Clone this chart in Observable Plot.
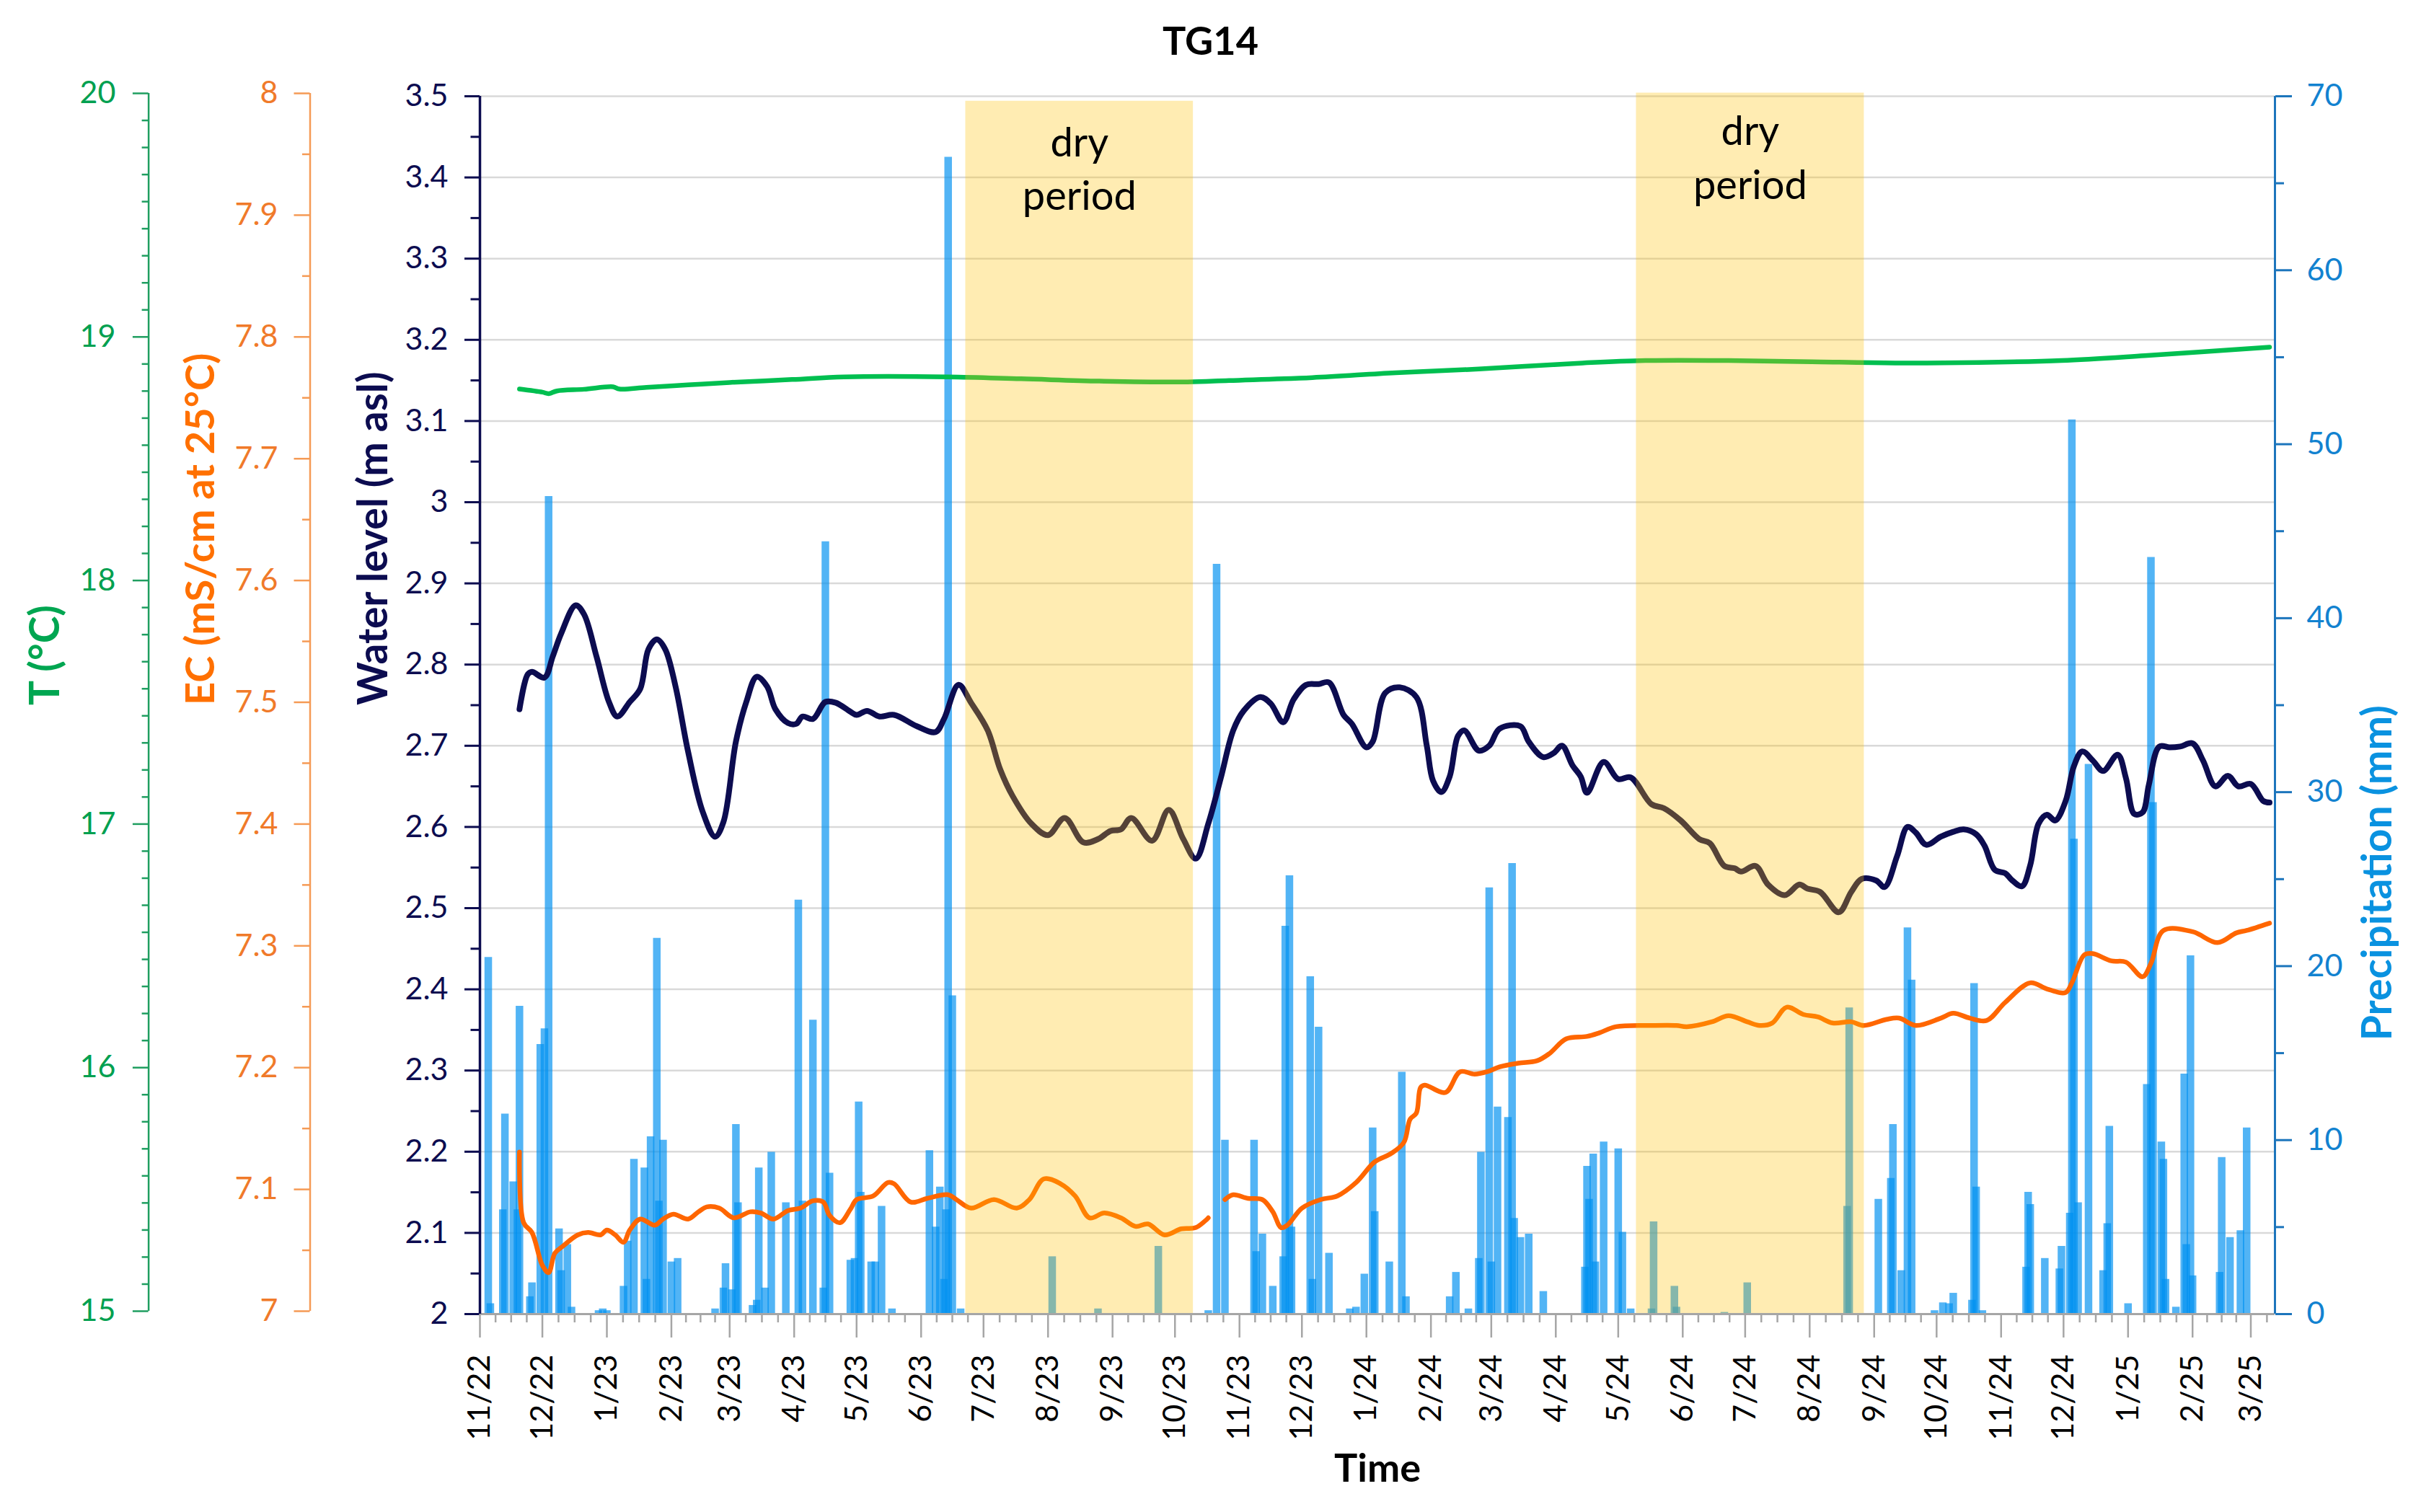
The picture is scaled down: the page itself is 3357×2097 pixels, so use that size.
<!DOCTYPE html>
<html><head><meta charset="utf-8">
<script src="https://cdn.jsdelivr.net/npm/d3@7"></script>
<script src="https://cdn.jsdelivr.net/npm/@observablehq/plot@0.6"></script>
<style>
html,body{margin:0;padding:0;background:#fff;overflow:hidden;}
#title{width:3357px;height:110px;line-height:112px;text-align:center;font-family:Lato,sans-serif;font-weight:bold;font-size:54px;color:#000;}
</style></head><body>
<div id="title">TG14</div>
<div id="chart"></div>
<script>
// ---- data (days counted from startDate) ----
const startDate = "2022-11-01";

const wlDays = [19,23,25,31,35,39,46,50,56,62,66,72,77,81,85,89,94,100,107,113,117,123,128,133,138,142,148,152,155,160,166,171,178,181,186,192,199,210,219,223,230,236,244,250,256,265,273,281,290,297,303,308,313,323,331,338,344,350,356,362,367,375,380,386,391,397,403,408,415,419,426,429,435,442,450,455,458,462,466,470,473,480,485,490,500,504,511,516,520,525,529,532,540,547,553,563,569,577,586,591,598,603,606,613,619,627,634,638,644,653,659,664,671,675,681,686,690,695,702,708,713,719,723,728,733,736,741,745,749,753,757,762,766,770,775,780,787,791,795,799,802,807,812,817,823,828,834,840,845,851,857,860];
const wlValues = [2.745,2.788,2.791,2.784,2.81,2.838,2.873,2.862,2.81,2.754,2.736,2.754,2.77,2.819,2.831,2.819,2.773,2.693,2.619,2.588,2.606,2.705,2.754,2.785,2.773,2.745,2.728,2.727,2.736,2.733,2.754,2.753,2.742,2.738,2.743,2.736,2.738,2.724,2.717,2.733,2.775,2.753,2.719,2.671,2.638,2.604,2.590,2.611,2.581,2.585,2.595,2.597,2.611,2.583,2.621,2.585,2.561,2.604,2.660,2.719,2.743,2.760,2.752,2.729,2.757,2.775,2.776,2.778,2.738,2.727,2.698,2.705,2.765,2.772,2.760,2.700,2.657,2.643,2.662,2.712,2.719,2.694,2.700,2.721,2.724,2.705,2.686,2.691,2.700,2.676,2.662,2.642,2.680,2.659,2.661,2.628,2.623,2.608,2.585,2.580,2.552,2.549,2.545,2.552,2.529,2.516,2.529,2.524,2.520,2.495,2.520,2.536,2.534,2.526,2.564,2.600,2.593,2.578,2.588,2.594,2.597,2.591,2.577,2.547,2.543,2.535,2.527,2.553,2.604,2.615,2.608,2.632,2.675,2.693,2.682,2.669,2.689,2.660,2.616,2.618,2.652,2.699,2.698,2.699,2.703,2.682,2.650,2.663,2.650,2.653,2.632,2.630];

const ecDays = [19,21,25,30,33,36,40,47,52,58,61,65,69,72,77,84,88,93,100,105,109,115,122,130,135,141,148,154,160,165,168,173,178,181,189,196,199,207,215,225,229,236,247,258,264,271,279,286,293,300,308,315,321,329,337,344,350,354,358,362,369,376,381,385,388,395,404,412,421,430,438,444,447,450,452,454,464,471,478,484,490,499,508,514,522,532,538,546,563,575,580,592,600,609,615,621,628,636,643,650,659,665,676,682,690,702,708,716,724,733,745,753,762,765,771,775,784,791,799,803,809,823,835,844,849,860];
const ecValues = [7.133,7.075,7.067,7.040,7.034,7.050,7.056,7.065,7.067,7.065,7.069,7.065,7.059,7.069,7.078,7.073,7.078,7.082,7.078,7.084,7.088,7.087,7.079,7.084,7.083,7.078,7.085,7.087,7.093,7.092,7.081,7.075,7.086,7.094,7.097,7.108,7.107,7.092,7.095,7.098,7.094,7.087,7.094,7.087,7.094,7.111,7.107,7.097,7.079,7.083,7.079,7.072,7.074,7.065,7.070,7.071,7.079,null,7.094,7.098,7.095,7.094,7.084,7.071,7.073,7.087,7.094,7.097,7.108,7.125,7.132,7.141,7.160,7.165,7.186,7.188,7.182,7.199,7.197,7.199,7.203,7.206,7.208,7.214,7.226,7.228,7.231,7.236,7.237,7.237,7.236,7.240,7.245,7.240,7.237,7.239,7.252,7.246,7.244,7.239,7.240,7.237,7.242,7.243,7.237,7.243,7.247,7.243,7.241,7.256,7.272,7.267,7.264,7.272,7.295,7.296,7.290,7.289,7.277,7.288,7.315,7.314,7.305,7.313,7.315,7.321];

const tDays = [19,30,33,37,50,64,67,80,100,120,150,175,225,260,300,340,360,400,440,480,530,560,600,640,680,720,760,800,860];
const tValues = [18.798,18.785,18.779,18.790,18.797,18.807,18.798,18.805,18.815,18.825,18.837,18.848,18.848,18.840,18.830,18.827,18.833,18.845,18.865,18.880,18.905,18.915,18.915,18.910,18.905,18.907,18.915,18.935,18.970];

const pDays = [4,5,11,12,16,18,19,24,25,29,31,33,38,39,42,44,57,59,61,69,71,74,79,80,82,85,86,88,92,95,113,117,118,121,123,124,131,133,134,137,140,147,153,155,160,165,166,168,178,180,182,183,188,190,193,198,216,219,221,223,224,225,227,231,275,297,326,350,354,358,372,373,376,381,386,387,389,390,399,400,403,408,418,421,425,429,430,437,443,445,466,469,475,480,481,485,486,489,494,496,497,500,504,511,531,532,533,535,536,540,547,549,553,563,564,574,575,598,609,657,658,672,678,679,683,686,688,699,703,706,708,717,718,719,722,743,744,745,752,759,760,764,765,766,768,773,780,782,783,792,801,803,804,808,809,810,815,819,820,822,823,836,837,841,846,849];
const pValues = [20.5,0.6,6,11.5,7.6,6,17.7,1,1.8,15.5,16.4,47,4.9,2.5,4.0,0.4,0.2,0.3,0.2,1.6,4.2,8.9,8.4,2,10.2,21.6,6.5,10,3,3.2,0.3,1.5,2.9,1.4,10.9,6.4,0.5,0.8,8.4,1.5,9.3,6.4,23.8,6.5,16.9,1.5,44.4,8.1,3.1,3.2,12.2,7,3,3,6.2,0.3,9.4,5,7.3,2,6,66.5,18.3,0.3,3.3,0.3,3.9,0.2,43.1,10.0,10.0,3.6,4.6,1.6,3.3,22.3,25.2,5,19.4,2.0,16.5,3.5,0.3,0.4,2.3,10.7,5.9,3.0,13.9,1,1,2.4,0.3,3.2,9.3,24.5,3,11.9,11.3,25.9,5.5,4.4,4.6,1.3,2.7,8.5,6.6,9.2,3,9.9,9.5,4.7,0.3,0.3,5.3,1.6,0.4,0.1,1.8,6.2,17.6,6.6,7.8,10.9,2.5,22.2,19.2,0.2,0.65,0.6,1.2,0.8,19.0,7.3,0.2,2.7,7.0,6.3,3.2,2.6,3.9,5.8,51.4,27.3,6.4,31.6,2.5,5.2,10.8,0.6,13.2,43.5,29.4,9.9,8.9,2.0,0.4,13.8,4,20.6,2.2,2.4,9.0,4.4,4.8,10.7];

const dryStartDays = [233.4, 555.7];
const dryEndDays = [342.8, 665.2];
const dryTopLevel = [3.494, 3.504];   // in water-level units
const dryLabelLevel = [3.414, 3.428];
const dryLabel = "dry\nperiod";

const axisEndDay = 862.6;
const wlTicks = d3.range(0, 16).map(k => 2 + k / 10);
const tTicks = [15, 16, 17, 18, 19, 20];
const ecTicks = d3.range(0, 11).map(k => 7 + k / 10);
const pTicks = [0, 10, 20, 30, 40, 50, 60, 70];

// ---- helpers ----
const t0 = new Date(startDate + "T00:00:00Z");
const day = n => new Date(t0.getTime() + n * 864e5);
const tEnd = day(axisEndDay);
const gT = v => 2 + (v - 15) * 0.3;      // T (°C) -> water level axis
const gEC = v => 2 + (v - 7) * 1.5;      // EC -> water level axis
const gP = v => 2 + v * 1.5 / 70;        // precipitation -> water level axis

const wl = wlDays.map((d, i) => ({date: day(d), v: wlValues[i]}));
const ec = ecDays.map((d, i) => ({date: day(d), v: ecValues[i]}));
const temp = tDays.map((d, i) => ({date: day(d), v: tValues[i]}));
const precip = pDays.map((d, i) => ({date: day(d), mm: pValues[i]}));
const dry = dryStartDays.map((s, i) => ({s: day(s), e: day(dryEndDays[i]), mid: day((s + dryEndDays[i]) / 2), top: dryTopLevel[i], ly: dryLabelLevel[i]}));

const months = d3.utcMonth.range(t0, tEnd);
const minorX = [];
for (const m of d3.utcMonth.range(t0, d3.utcMonth.offset(tEnd, 1))) {
  const n = d3.utcMonth.offset(m, 1);
  for (let k = 1; k < 4; k++) {
    const t = new Date(+m + (n - m) * k / 4);
    if (t <= tEnd) minorX.push(t);
  }
}
const fmtMonth = d => `${d.getUTCMonth() + 1}/${String(d.getUTCFullYear() % 100).padStart(2, "0")}`;

const navy = "#0c0c50";
const greenAxis = "#1f9e60", greenText = "#00a050", greenLine = "#00bf50";
const orangeAxis = "#f59a55", orangeText = "#f07a2a", orangeLine = "#ff6600", orangeTitle = "#ff7000";
const blueAxis = "#1c75bc", blueText = "#1282d0", blueTitle = "#0a92e0";
const gray = "#a6a6a6";

const chart = Plot.plot({
  width: 3357, height: 1987,
  marginTop: 23, marginRight: 203, marginBottom: 275, marginLeft: 665,
  style: {fontFamily: "Lato, 'Open Sans', sans-serif", background: "#fff", overflow: "visible"},
  x: {type: "utc", domain: [t0, tEnd], label: null},
  y: {domain: [2, 3.5], label: null},
  marks: [
    Plot.gridY({ticks: wlTicks, stroke: "#d9d9d9", strokeOpacity: 1, strokeWidth: 2.5}),
    Plot.ruleX(precip, {x: "date", y1: 2, y2: d => gP(d.mm), stroke: "#0090f0", strokeOpacity: 0.68, strokeWidth: 10.5}),
    Plot.line(temp, {x: "date", y: d => gT(d.v), stroke: greenLine, strokeWidth: 6.5, curve: "catmull-rom"}),
    Plot.line(ec, {x: "date", y: d => d.v == null ? NaN : gEC(d.v), stroke: orangeLine, strokeWidth: 6.5, curve: "catmull-rom"}),
    Plot.line(wl, {x: "date", y: d => d.v, stroke: navy, strokeWidth: 8, curve: "catmull-rom"}),
    Plot.rect(dry, {x1: "s", x2: "e", y1: 2, y2: "top", fill: "#ffc000", fillOpacity: 0.3}),
    Plot.text(dry, {x: "mid", y: "ly", text: () => dryLabel, fontSize: 56, lineHeight: 1.33, fill: "#000"}),

    // axis lines
    Plot.ruleY([2], {stroke: gray, strokeWidth: 3}),
    Plot.ruleX([t0], {y1: 2, y2: 3.5, stroke: navy, strokeWidth: 3.5}),
    Plot.ruleX([t0], {y1: 2, y2: 3.5, dx: -459.4, dy: -4, stroke: greenAxis, strokeWidth: 2.5}),
    Plot.ruleX([t0], {y1: 2, y2: 3.5, dx: -235.5, dy: -4, stroke: orangeAxis, strokeWidth: 2.5}),
    Plot.ruleX([tEnd], {y1: 2, y2: 3.5, stroke: blueAxis, strokeWidth: 3}),

    // water level axis
    Plot.axisY({anchor: "left", ticks: wlTicks, tickFormat: v => String(+v.toFixed(1)), tickSize: 21, tickPadding: 23, fontSize: 43, stroke: navy, fill: navy, strokeWidth: 3, label: null}),
    Plot.axisY({anchor: "left", ticks: wlTicks.slice(0, 15).map(v => v + 0.05), tickSize: 12.5, stroke: navy, fill: "none", strokeWidth: 3, label: null}),
    // temperature axis
    Plot.axisY({anchor: "left", ticks: tTicks.map(gT), tickFormat: v => String(Math.round((v - 2) / 0.3 + 15)), dx: -459.4, dy: -4, tickSize: 21.7, tickPadding: 24, fontSize: 43, stroke: greenAxis, fill: greenText, strokeWidth: 2.5, label: null}),
    Plot.axisY({anchor: "left", ticks: d3.range(1, 45).filter(k => k % 9).map(k => gT(15 + k / 9)), dx: -459.4, dy: -4, tickSize: 9, stroke: greenAxis, fill: "none", strokeWidth: 2.5, label: null}),
    // EC axis
    Plot.axisY({anchor: "left", ticks: ecTicks.map(gEC), tickFormat: v => String(+((v - 2) / 1.5 + 7).toFixed(1)), dx: -235.5, dy: -4, tickSize: 22, tickPadding: 22.5, fontSize: 43, stroke: orangeAxis, fill: orangeText, strokeWidth: 2.5, label: null}),
    Plot.axisY({anchor: "left", ticks: ecTicks.slice(0, 10).map(v => gEC(v + 0.05)), dx: -235.5, dy: -4, tickSize: 10.5, stroke: orangeAxis, fill: "none", strokeWidth: 2.5, label: null}),
    // precipitation axis
    Plot.axisY({anchor: "right", ticks: pTicks.map(gP), tickFormat: v => String(Math.round((v - 2) * 70 / 1.5)), tickSize: 23, tickPadding: 21, fontSize: 43, stroke: blueAxis, fill: blueText, strokeWidth: 3, label: null}),
    Plot.axisY({anchor: "right", ticks: pTicks.slice(0, 7).map(v => gP(v + 5)), tickSize: 12, stroke: blueAxis, fill: "none", strokeWidth: 3, label: null}),
    // time axis
    Plot.axisX({ticks: months, tickFormat: fmtMonth, tickRotate: -90, tickSize: 33, tickPadding: 23, fontSize: 43, stroke: gray, fill: "#000", strokeWidth: 2.5, label: null}),
    Plot.axisX({ticks: minorX, tickSize: 12, stroke: gray, fill: "none", strokeWidth: 2.5, label: null}),

    // axis titles
    Plot.text(["T (°C)"], {frameAnchor: "left", dx: -602, rotate: -90, fill: "#00a651", fontSize: 57, fontWeight: "bold"}),
    Plot.text(["EC (mS/cm at 25°C)"], {frameAnchor: "left", dx: -386, rotate: -90, fill: orangeTitle, fontSize: 56, fontWeight: "bold"}),
    Plot.text(["Water level (m asl)"], {frameAnchor: "left", dx: -147, rotate: -90, fill: navy, fontSize: 57, fontWeight: "bold"}),
    Plot.text(["Precipitation (mm)"], {frameAnchor: "right", dx: 143, rotate: -90, fill: blueTitle, fontSize: 57, fontWeight: "bold"}),
    Plot.text(["Time"], {frameAnchor: "bottom", dy: 232, fill: "#000", fontSize: 54, fontWeight: "bold"})
  ]
});
document.getElementById("chart").appendChild(chart);
</script>
</body></html>
